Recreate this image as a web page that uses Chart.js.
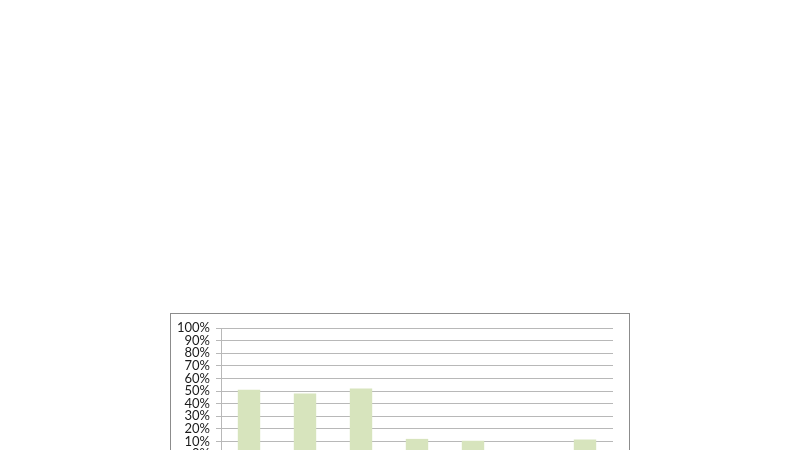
<!DOCTYPE html>
<html>
<head>
<meta charset="utf-8">
<script src="https://cdn.jsdelivr.net/npm/chart.js@4"></script>
<style>
  html, body { margin: 0; padding: 0; background: #fff; overflow: hidden; width: 800px; height: 450px; }
  #box {
    position: absolute; left: 170px; top: 313px;
    width: 460px; height: 200px;
    box-sizing: border-box; border: 1px solid #8c8c8c; background: #fff;
  }
</style>
</head>
<body>
<div id="box"><canvas id="myChart"></canvas></div>
<script>
// Données (les libellés des catégories sont hors cadre)
const categories = ['', '', '', '', '', '', ''];
const shares = [51, 48, 52, 12, 10.5, 0, 11.5];
const yTicks = [0, 10, 20, 30, 40, 50, 60, 70, 80, 90, 100];

const gridGrey = '#b8b8b8';

const data = {
    labels: categories,
    datasets: [{
        data: shares,
        backgroundColor: '#d7e4bd',
        borderWidth: 0,
        barPercentage: 0.4,
        categoryPercentage: 1.0,
    }]
};

const config = {
    type: 'bar',
    data: data,
    options: {
        responsive: true,
        maintainAspectRatio: false,
        animation: false,
        layout: { padding: { left: 0, top: 14, right: 16, bottom: 18 } },
        scales: {
            x: {
                grid: { display: false },
                border: { display: false },
                ticks: { display: false },
                afterFit: (scale) => { scale.height = 40; }
            },
            y: {
                min: 0,
                max: 100,
                afterBuildTicks: (scale) => { scale.ticks = yTicks.map(v => ({ value: v })); },
                afterFit: (scale) => { scale.width = 50; },
                grid: { color: gridGrey, lineWidth: 1, tickLength: 5 },
                border: { display: true, color: gridGrey, width: 1 },
                ticks: {
                    autoSkip: false,
                    padding: 6,
                    color: '#1a1a1a',
                    font: { family: 'Lato', size: 13 },
                    callback: (v) => v + '%'
                }
            }
        },
        plugins: {
            legend: { display: false },
            title: { display: false },
            tooltip: { enabled: false }
        }
    }
};

var myChart = new Chart(document.getElementById('myChart'), config);
</script>
</body>
</html>
